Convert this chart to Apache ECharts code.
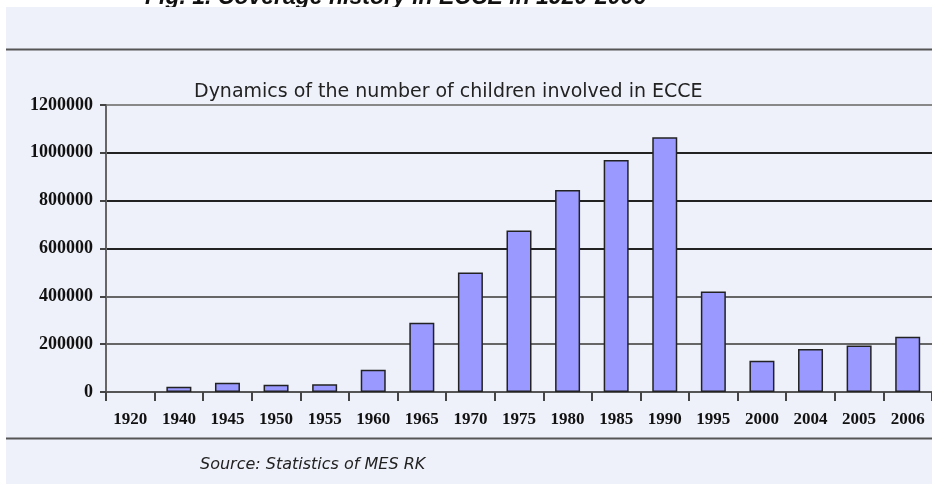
<!DOCTYPE html>
<html>
<head>
<meta charset="utf-8">
<script src="https://cdn.jsdelivr.net/npm/echarts@6/dist/echarts.min.js"></script>
<style>
  html, body { margin: 0; padding: 0; background: #fff; }
  #main { width: 932px; height: 484px; }
</style>
</head>
<body>
<div id="main"></div>
<script>
// years on the x axis (last one is clipped by the frame)
var years = ['1920', '1940', '1945', '1950', '1955', '1960', '1965', '1970', '1975',
  '1980', '1985', '1990', '1995', '2000', '2004', '2005', '2006'];
// children involved in ECCE (no bar drawn for 1920)
var children = [null, 22000, 39000, 30000, 32000, 93000, 290000, 500000, 675000,
  845000, 970000, 1065000, 420000, 131000, 180000, 194000, 231000];
var yTicks = [0, 200000, 400000, 600000, 800000, 1000000, 1200000];

var chart = echarts.init(document.getElementById('main'));

var option = {
  backgroundColor: '#ffffff',
  animation: false,
  graphic: [
    // light panel
    { type: 'rect', z: -10, shape: { x: 6, y: 7, width: 940, height: 490 }, style: { fill: '#eef1fa' } },
    // clipped figure caption at the very top
    { type: 'text', left: 145, top: -14, z: -20,
      style: { text: 'Fig. 1. Coverage history in ECCE in 1920-2006', fill: '#111',
        font: 'italic bold 23px "Liberation Sans", Arial, sans-serif' } },
    // separator lines
    { type: 'line', shape: { x1: 6, y1: 49.5, x2: 932, y2: 49.5 }, style: { stroke: '#555', lineWidth: 2 } },
    { type: 'line', shape: { x1: 6, y1: 438.5, x2: 932, y2: 438.5 }, style: { stroke: '#555', lineWidth: 2 } },
    // source note
    { type: 'text', left: 200, top: 457,
      style: { text: 'Source: Statistics of MES RK', fill: '#222',
        font: 'italic 16px "DejaVu Sans", Verdana, sans-serif' } }
  ],
  title: {
    text: 'Dynamics of the number of children involved in ECCE',
    left: 189,
    top: 78,
    textStyle: { fontFamily: '"DejaVu Sans", Verdana, sans-serif', fontSize: 19, fontWeight: 'normal', color: '#222' }
  },
  grid: { left: 106, right: -12, top: 105, bottom: 92, containLabel: false },
  xAxis: {
    type: 'category',
    data: years,
    axisLine: { lineStyle: { color: '#555', width: 2 } },
    axisTick: { show: true, length: 9, alignWithLabel: false, lineStyle: { color: '#444', width: 2 } },
    axisLabel: {
      margin: 19,
      color: '#111',
      fontFamily: '"Liberation Serif", serif',
      fontWeight: 'bold',
      fontSize: 17,
      interval: 0
    }
  },
  yAxis: {
    type: 'value',
    min: yTicks[0],
    max: yTicks[yTicks.length - 1],
    interval: yTicks[1] - yTicks[0],
    axisLine: { show: true, lineStyle: { color: '#666', width: 2 } },
    axisTick: { show: true, length: 6, lineStyle: { color: '#444', width: 2 } },
    axisLabel: {
      margin: 13,
      color: '#111',
      fontFamily: '"Liberation Serif", serif',
      fontWeight: 'bold',
      fontSize: 18,
      formatter: function (v) { return String(v); }
    },
    splitLine: {
      show: true,
      lineStyle: { color: ['#444', '#666', '#666', '#222', '#222', '#222', '#888'], width: 2 }
    }
  },
  series: [{
    type: 'bar',
    data: children,
    barWidth: 25,
    itemStyle: { color: '#9999ff', borderColor: '#222', borderWidth: 1.5 }
  }]
};

chart.setOption(option);
</script>
</body>
</html>
